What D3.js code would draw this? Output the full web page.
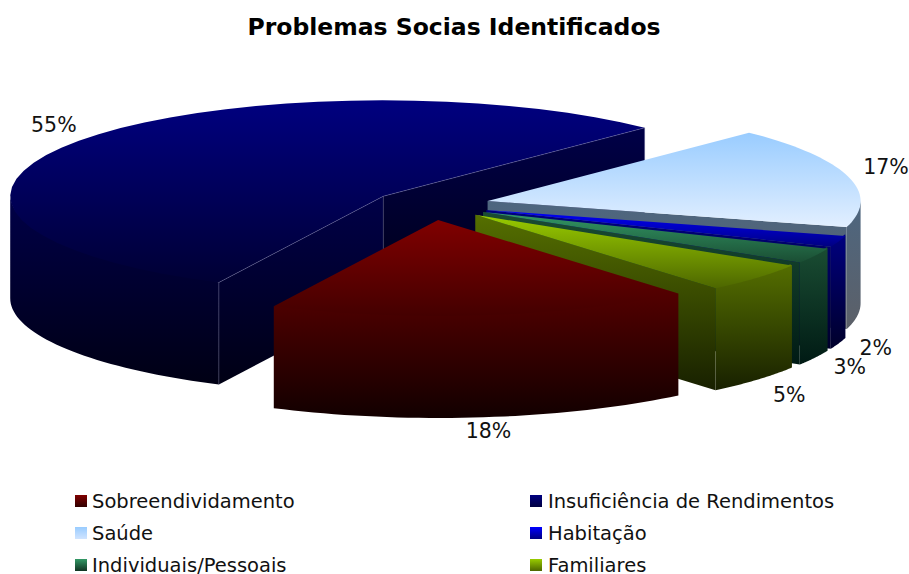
<!DOCTYPE html>
<html>
<head>
<meta charset="utf-8">
<title>Problemas Socias Identificados</title>
<script src="https://cdn.jsdelivr.net/npm/d3@7"></script>
<style>
  body { margin: 0; background: #fff; }
  text { font-family: "DejaVu Sans", sans-serif; fill: #111; }
</style>
</head>
<body>
<div class="box"></div>
<script>
// dados (percentagens)
const categorias = ['Sobreendividamento', 'Insuficiência de Rendimentos', 'Saúde', 'Habitação', 'Individuais/Pessoais', 'Familiares'];
const valores = [18.4, 55.1, 17.0, 1.9, 2.6, 5.0];

// cores: topo (inicio, fim) e parede (inicio, fim)
const corTopo = [['#800000', '#440000'], ['#000080', '#000034'], ['#99ccff', '#e2efff'], ['#0000ff', '#000080'], ['#339966', '#1a4d33'], ['#99cc00', '#4d6600']];
const corParede = [['#520000', '#120000'], ['#000048', '#000014'], ['#4d6680', '#5c6068'], ['#000080', '#00002a'], ['#1a4d33', '#001a14'], ['#556f00', '#182000']];
const corLegenda = [['#800000', '#300000'], ['#000080', '#000040'], ['#99ccff', '#d0e4ff'], ['#0000ff', '#000080'], ['#339966', '#103322'], ['#99cc00', '#4d6600']];

// mise en page
const dims = {width: 909, height: 574, cx: 431, cy: 205, rx: 373, ry: 96, depth: 102, explode: 0.157};
const etiquetaDesvio = [[5, 14], [-25, -16], [38, -9], [37, 5], [35, 9], [32, 15]];

const svg = d3.select('.box')
              .append('svg')
              .attr('width', dims.width)
              .attr('height', dims.height)
              .style('display', 'block');

const defs = svg.append('defs');

const gradiente = (id, cores) => {
    const g = defs.append('linearGradient')
                  .attr('id', id)
                  .attr('x1', 0).attr('y1', 0)
                  .attr('x2', 0).attr('y2', 1);
    g.append('stop').attr('offset', 0).attr('stop-color', cores[0]);
    g.append('stop').attr('offset', 1).attr('stop-color', cores[1]);
};

categorias.forEach((c, i) => {
    gradiente(`topo${i}`, corTopo[i]);
    gradiente(`parede${i}`, corParede[i]);
    gradiente(`legenda${i}`, corLegenda[i]);
});

// titulo
svg.append('text')
   .attr('x', 454)
   .attr('y', 35)
   .attr('text-anchor', 'middle')
   .attr('font-size', 23.5)
   .attr('font-weight', 'bold')
   .style('fill', '#000')
   .text('Problemas Socias Identificados');

// fatias, a partir do angulo da primeira (sentido horario)
const inicio = 139.9 * Math.PI / 180;
const pie = d3.pie()
              .sort(null)
              .startAngle(inicio)
              .endAngle(inicio + 2 * Math.PI)
              .value(d => d);

const fatias = pie(valores).map((d, i) => {
    // as fatias depois de 360 graus voltam ao inicio da volta
    const volta = d.startAngle >= 2 * Math.PI ? 2 * Math.PI : 0;
    const startAngle = d.startAngle - volta;
    const endAngle = d.endAngle - volta;
    const mid = (startAngle + endAngle) / 2;
    return {
        ...d,
        startAngle,
        endAngle,
        i,
        mid,
        ax: dims.cx + dims.explode * dims.rx * Math.sin(mid),
        ay: dims.cy - dims.explode * dims.ry * Math.cos(mid)
    };
});

const ponto = (f, t, dz = 0) => [
    f.ax + dims.rx * Math.sin(t),
    f.ay - dims.ry * Math.cos(t) + dz
];

const linha = d3.line();
const passos = (a, b) => d3.range(0, 41).map(k => a + (b - a) * k / 40);

const topoPath = f => linha([
    [f.ax, f.ay],
    ...passos(f.startAngle, f.endAngle).map(t => ponto(f, t))
]) + 'Z';

const corteParede = (f, t) => linha([
    [f.ax, f.ay],
    ponto(f, t),
    ponto(f, t, dims.depth),
    [f.ax, f.ay + dims.depth]
]) + 'Z';

// parede exterior: so a parte virada para a frente (90 a 270 graus)
// a aresta de cima sobe 2px para ficar debaixo do topo e nao deixar fresta branca
const bordaPath = f => {
    const a = Math.max(f.startAngle, Math.PI / 2);
    const b = Math.min(f.endAngle, 3 * Math.PI / 2);
    if (b <= a) return null;
    const ts = passos(a, b);
    return linha([
        ...ts.map((t, k) => ponto(f, t, k > 0 && k < 40 ? -2 : 0)),
        ...ts.slice().reverse().map(t => ponto(f, t, dims.depth))
    ]) + 'Z';
};

// ordem de pintura: de tras para a frente
const ordem = [1, 2, 3, 4, 5, 0];
const grafico = svg.append('g');

ordem.forEach(i => {
    const f = fatias[i];
    const g = grafico.append('g');

    const cortes = [];
    if (Math.sin(f.startAngle) < 0) cortes.push(f.startAngle);
    if (Math.sin(f.endAngle) > 0) cortes.push(f.endAngle);

    cortes.forEach(t => {
        g.append('path')
         .attr('d', corteParede(f, t))
         .attr('fill', `url(#parede${i})`);
    });

    const borda = bordaPath(f);
    if (borda) {
        g.append('path')
         .attr('d', borda)
         .attr('fill', `url(#parede${i})`);
    }

    g.append('path')
     .attr('d', topoPath(f))
     .attr('fill', `url(#topo${i})`);

    // linhas finas nas arestas da fatia grande
    if (i === 1) {
        cortes.forEach(t => {
            const p = ponto(f, t);
            g.append('path')
             .attr('d', linha([[f.ax, f.ay], p]))
             .attr('fill', 'none')
             .attr('stroke', '#8080b0')
             .attr('stroke-opacity', 0.55)
             .attr('stroke-width', 0.7);
            g.append('path')
             .attr('d', linha([p, ponto(f, t, dims.depth)]))
             .attr('fill', 'none')
             .attr('stroke', '#8080b0')
             .attr('stroke-opacity', 0.5)
             .attr('stroke-width', 0.7);
        });
        g.append('path')
         .attr('d', linha([[f.ax, f.ay], [f.ax, f.ay + dims.depth * 0.55]]))
         .attr('fill', 'none')
         .attr('stroke', '#8080b0')
         .attr('stroke-opacity', 0.3)
         .attr('stroke-width', 0.7);
    }
});

// percentagens
const formato = d3.format('.0f');
svg.append('g')
   .selectAll('text')
   .data(fatias)
   .join('text')
   .attr('x', f => ponto(f, f.mid)[0] + etiquetaDesvio[f.i][0])
   .attr('y', f => ponto(f, f.mid, Math.cos(f.mid) < 0 ? dims.depth : 0)[1] + etiquetaDesvio[f.i][1])
   .attr('text-anchor', 'middle')
   .attr('dominant-baseline', 'central')
   .attr('font-size', 20.5)
   .text(f => `${formato(f.value)}%`);

// legenda
const legX = d3.scaleOrdinal().domain([0, 1]).range([75, 530]);
const legY = d3.scalePoint().domain([0, 1, 2]).range([501, 565]);

const legendas = svg.append('g')
                    .selectAll('g')
                    .data(categorias)
                    .join('g')
                    .attr('transform', (d, i) => `translate(${legX(i % 2)}, ${legY(Math.floor(i / 2))})`);

legendas.append('rect')
        .attr('x', 0)
        .attr('y', -6)
        .attr('width', 12)
        .attr('height', 12)
        .attr('fill', (d, i) => `url(#legenda${i})`);

legendas.append('text')
        .attr('x', (d, i) => i % 2 ? 18 : 17)
        .attr('y', 7)
        .attr('font-size', 19.5)
        .text(d => d);
</script>
</body>
</html>
